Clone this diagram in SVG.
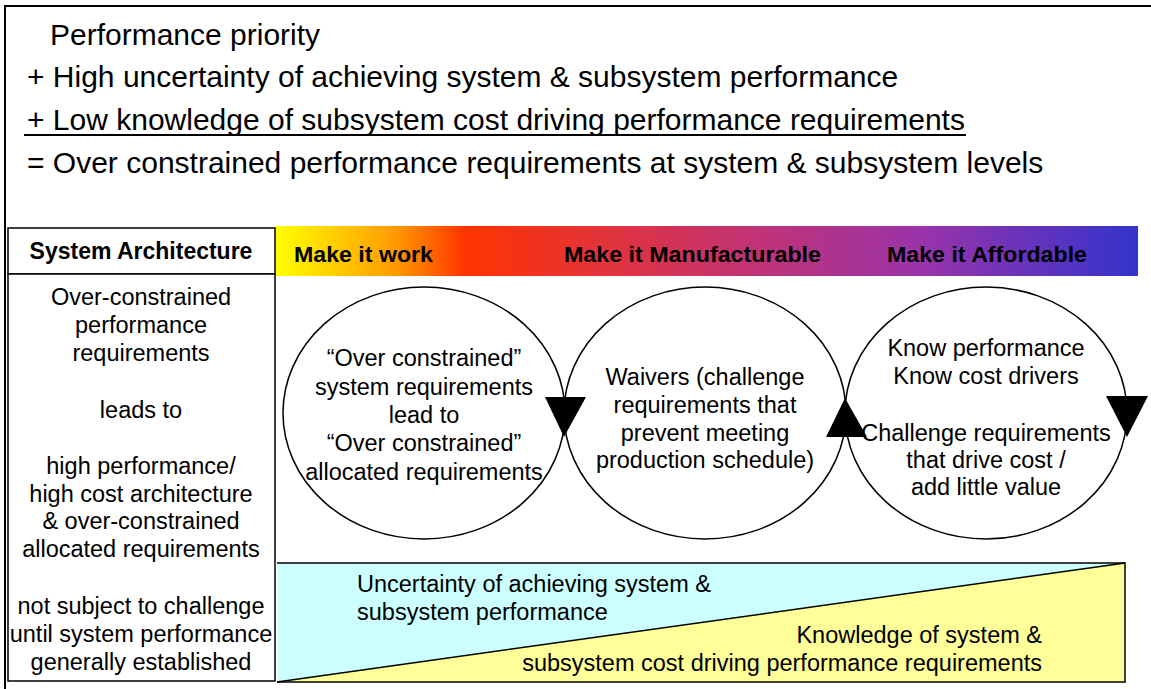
<svg xmlns="http://www.w3.org/2000/svg" width="1151" height="689" viewBox="0 0 1151 689">
<defs>
<linearGradient id="bar" x1="0" y1="0" x2="1" y2="0">
<stop offset="0" stop-color="#FFFF00"/>
<stop offset="0.14" stop-color="#FF9900"/>
<stop offset="0.22" stop-color="#FF3300"/>
<stop offset="0.5" stop-color="#CC3366"/>
<stop offset="0.75" stop-color="#9933AA"/>
<stop offset="1" stop-color="#3333CC"/>
</linearGradient>
<style>
text{font-family:"Liberation Sans",Arial,sans-serif;fill:#000}
.big{font-size:30px}
.t{font-size:23.5px;text-anchor:middle}
.s{font-size:23.5px;text-anchor:start}
.e{font-size:23.5px;text-anchor:end}
.b{font-size:22px;font-weight:bold}
.ln{fill:none;stroke:#000;stroke-width:2}
.ell{fill:#fff;stroke:#000;stroke-width:1.5}
.arr{fill:#000}
</style>
</defs>
<rect x="0" y="0" width="1151" height="689" fill="#fff"/>
<path class="ln" d="M5,700 V6 H1160"/>

<g id="premise">
<text class="big" x="50" y="45">Performance priority</text>
<text class="big" x="27" y="87">+ High uncertainty of achieving system &amp; subsystem performance</text>
<text class="big" x="27" y="130">+ Low knowledge of subsystem cost driving performance requirements</text>
<line x1="24" y1="135" x2="966" y2="135" stroke="#000" stroke-width="2"/>
<text class="big" x="27" y="173">= Over constrained performance requirements at system &amp; subsystem levels</text>
</g>

<g id="left-panel">
<rect x="8" y="228" width="267" height="46" fill="#fff" stroke="#000" stroke-width="1.5"/>
<text class="b" x="141" y="259" text-anchor="middle" style="font-size:23px">System Architecture</text>
<rect x="8" y="274" width="267" height="407" fill="#fff" stroke="#000" stroke-width="1.5"/>
<text class="t" x="141" y="305">Over-constrained</text>
<text class="t" x="141" y="333">performance</text>
<text class="t" x="141" y="361">requirements</text>
<text class="t" x="141" y="418">leads to</text>
<text class="t" x="141" y="474">high performance/</text>
<text class="t" x="141" y="502">high cost architecture</text>
<text class="t" x="141" y="529">&amp; over-constrained</text>
<text class="t" x="141" y="557">allocated requirements</text>
<text class="t" x="141" y="614">not subject to challenge</text>
<text class="t" x="141" y="642">until system performance</text>
<text class="t" x="141" y="670">generally established</text>
</g>

<g id="phase-bar">
<rect x="276" y="226" width="862" height="50" fill="url(#bar)"/>
<text class="b" x="294" y="262" textLength="139" lengthAdjust="spacingAndGlyphs">Make it work</text>
<text class="b" x="564" y="262" textLength="257" lengthAdjust="spacingAndGlyphs">Make it Manufacturable</text>
<text class="b" x="887" y="262" textLength="200" lengthAdjust="spacingAndGlyphs">Make it Affordable</text>
</g>

<g id="trend">
<rect x="277" y="563" width="848" height="119" fill="#CCFFFF"/>
<polygon points="277,682 1125,563 1125,682" fill="#FFFF99"/>
<line x1="277" y1="682" x2="1125" y2="563" stroke="#000" stroke-width="1.5"/>
<path d="M277,563 H1125 V682 H277" fill="none" stroke="#000" stroke-width="1.5"/>
<text class="s" x="357" y="592">Uncertainty of achieving system &amp;</text>
<text class="s" x="357" y="620">subsystem performance</text>
<text class="e" x="1042" y="643">Knowledge of system &amp;</text>
<text class="e" x="1042" y="671">subsystem cost driving performance requirements</text>
</g>

<g id="circle-work">
<ellipse class="ell" cx="424" cy="413" rx="141" ry="126"/>
</g>
<g id="circle-manufacture">
<ellipse class="ell" cx="705" cy="413" rx="141" ry="126"/>
</g>
<g id="circle-afford">
<ellipse class="ell" cx="986" cy="413" rx="141" ry="126"/>
</g>
<g id="circle-texts">
<text class="t" x="424" y="366">“Over constrained”</text>
<text class="t" x="424" y="395">system requirements</text>
<text class="t" x="424" y="423">lead to</text>
<text class="t" x="424" y="451">“Over constrained”</text>
<text class="t" x="424" y="480">allocated requirements</text>
<text class="t" x="705" y="385">Waivers (challenge</text>
<text class="t" x="705" y="413">requirements that</text>
<text class="t" x="705" y="441">prevent meeting</text>
<text class="t" x="705" y="468">production schedule)</text>
<text class="t" x="986" y="356">Know performance</text>
<text class="t" x="986" y="384">Know cost drivers</text>
<text class="t" x="986" y="441">Challenge requirements</text>
<text class="t" x="986" y="468">that drive cost /</text>
<text class="t" x="986" y="495">add little value</text>
</g>

<g id="connectors">
<polygon class="arr" points="545,397 586,397 564,437"/>
<polygon class="arr" points="845,398 867,437 826,437"/>
<polygon class="arr" points="1106,396 1148,396 1127,437"/>
</g>
</svg>
